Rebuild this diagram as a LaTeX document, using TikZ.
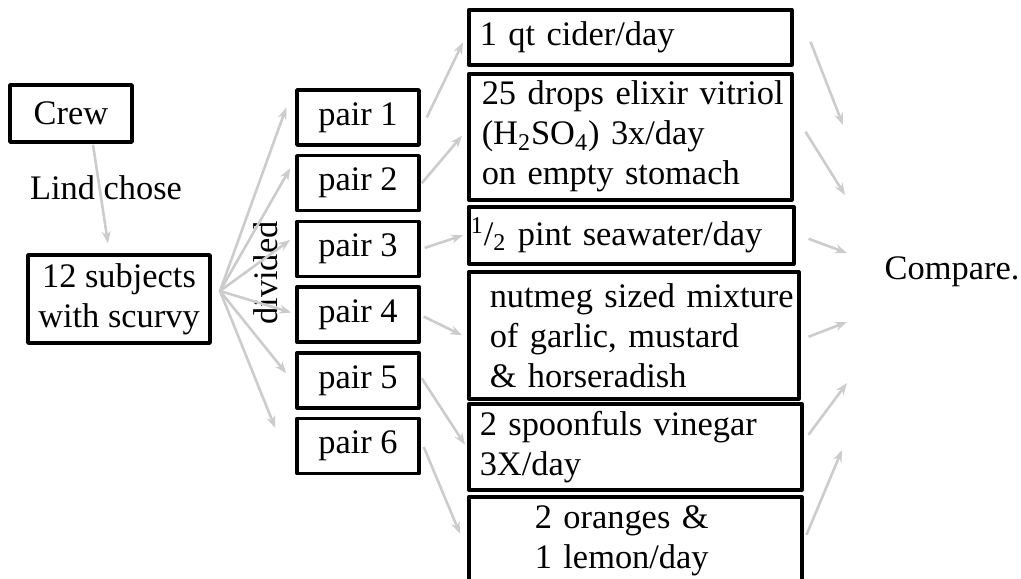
\documentclass[tikz,border=0pt]{standalone}
\usepackage{fontspec}
\setmainfont{Liberation Serif}
\usetikzlibrary{positioning,arrows.meta}
\colorlet{arrowgray}{black!20}
\begin{document}
\begin{tikzpicture}[x=0.5pt, y=-0.5pt, font={\fontsize{17.2}{20}\selectfont}, line join=round, >={Stealth[length=6pt,width=4.5pt]},
		box/.style={draw, line width=1.75pt, inner sep=0pt, align=center},
		pairbox/.style={box, minimum width=61pt, minimum height=27.5pt},
		treat/.style={draw, line width=1.75pt, anchor=north west, align=left, inner ysep=0pt},
		arr/.style={->, draw=arrowgray, line width=1.3pt}]
			\useasboundingbox (0,0) rectangle (1021,578);
			\node[box, minimum width=61pt, minimum height=28.5pt] (crew) at (71,113.5) {Crew};
			\node[box, minimum width=91pt, minimum height=44pt] (subj) at (119,299) {12 subjects\\with scurvy};
			\node (lind) at (106,188) {Lind chose};
			\node[rotate=90] (div) at (266,273) {divided};
			\coordinate (fan) at (220,291);
			\foreach \i in {1,...,6}
			\node[pairbox] (p\i) at (358,{117.5+(\i-1)*65.7}) {pair \i};
			\node[treat, text width=150.5pt, inner xsep=5.5pt, minimum height=27.5pt] (t1) at (467,8) {1 qt cider/day};
			\node[treat, text width=148.5pt, inner xsep=6.5pt, minimum height=63pt] (t2) at (467,72)
				{\mbox{25 drops elixir vitriol}\\(H\textsubscript{2}SO\textsubscript{4}) 3x/day\\on empty stomach};
			\node[treat, text width=160.5pt, inner xsep=1pt, minimum height=28.5pt] (t3) at (467,205)
				{\textsuperscript{1}/\textsubscript{2} pint seawater/day};
			\node[treat, text width=144pt, inner xsep=10.5pt, minimum height=63.5pt] (t4) at (467,270)
				{\mbox{nutmeg sized mixture}\\of garlic, mustard\\\& horseradish};
			\node[treat, text width=155.5pt, inner xsep=5.5pt, minimum height=43pt] (t5) at (467,402) {2 spoonfuls vinegar\\3X/day};
			\node[treat, text width=100.5pt, inner xsep=33pt, minimum height=44pt] (t6) at (467,495) {2 oranges \&\\1 lemon/day};
			\node (cmp) at (952,272) {Compare.};
			\draw[arr] ([shift={(22,1)}]crew.south) -- ([shift={(-11,-10)}]subj.north);
			\foreach \i/\dx/\dy in {1/-9/-10, 2/-5/-15, 3/-5/-9, 4/-4/-2, 5/-9/-7, 6/-20/-18}
			\draw[arr] (fan) -- ([shift={(\dx,\dy)}]p\i.west);
			\foreach \i/\ax/\ay/\bx/\by in {1/6/0/-4/5, 2/1/0/-5/-1, 3/4/-1/-4/0, 4/3/2/-5/0, 5/1/-2/-2/-2, 6/3/1/-7/-7}
			\draw[arr] ([shift={(\ax,\ay)}]p\i.east) -- ([shift={(\bx,\by)}]t\i.west);
			\foreach \i/\ax/\ay/\bx/\by in {1/17/4.5/-109/-147, 2/12/-5/-107/-77, 3/13/3.5/-105/-19, 4/8/1.5/-105/50, 5/5/-12/-105/111, 6/3/-6/-110/178}
			\draw[arr] ([shift={(\ax,\ay)}]t\i.east) -- ([shift={(\bx,\by)}]cmp.center);
		\end{tikzpicture}
\end{document}
